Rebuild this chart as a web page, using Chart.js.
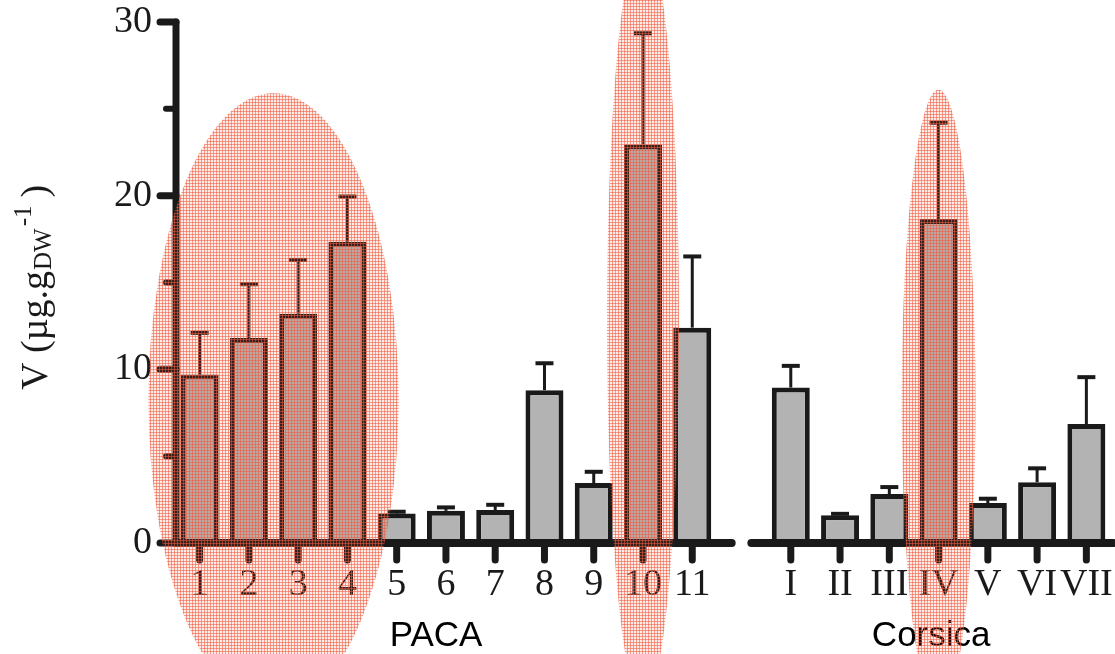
<!DOCTYPE html>
<html>
<head>
<meta charset="utf-8">
<script src="https://cdn.jsdelivr.net/npm/chart.js@4/dist/chart.umd.min.js"></script>
<style>
  html, body { margin: 0; padding: 0; background: #fff; }
  #wrap { width: 1115px; height: 654px; }
</style>
</head>
<body>
<div id="wrap"><canvas id="chart" width="1115" height="654"></canvas></div>
<script>
// Sites: PACA 1-11, a spacer slot, then Corsica I-VII
const sites = ["1","2","3","4","5","6","7","8","9","10","11","","I","II","III","IV","V","VI","VII"];
const meanV = [9.7, 11.8, 13.2, 17.35, 1.7, 1.85, 1.9, 8.8, 3.45, 22.95, 12.4, null,
               8.95, 1.6, 2.82, 18.65, 2.3, 3.5, 6.85];
const errV  = [2.4, 3.1, 3.1, 2.6, 0.1, 0.2, 0.3, 1.55, 0.65, 6.4, 4.1, null,
               1.25, 0.08, 0.4, 5.55, 0.25, 0.8, 2.7];
const yMajor = [0, 10, 20, 30];
const yMinor = [5, 15, 25];

// axis segments and group names (category index units)
const groupNames = ["PACA", "Corsica"];
const groupCenter = [4.8, 14.85];
const groupFrom = [-0.5, 11.2];
const groupTo = [10.8, 18.55];

// highlighted regions: centre index, centre value, x radius (slots), y radius (units)
const hiCenter = [1.5, 9, 15];
const hiMid = [8.2, 12.8, 8.2];
const hiRx = [2.54, 0.73, 0.75];
const hiRy = [17.7, 22.0, 17.9];

const ink = "#1a1a1a";
const serif = '"Liberation Serif", "Times New Roman", serif';

function meshPattern() {
    const c = document.createElement("canvas");
    c.width = 3; c.height = 3;
    const g = c.getContext("2d");
    g.fillStyle = "rgba(240,90,60,0.12)";
    g.fillRect(0, 0, 3, 3);
    g.fillStyle = "rgba(240,90,60,0.55)";
    g.fillRect(0, 0, 3, 1);
    g.fillRect(0, 0, 1, 3);
    return g.createPattern(c, "repeat");
}

const decorPlugin = {
    id: "decor",
    afterDatasetsDraw(chart) {
        const { ctx, chartArea, scales: { x, y } } = chart;
        const left = chartArea.left + 1;
        const y0 = y.getPixelForValue(0);
        ctx.save();
        ctx.strokeStyle = ink;

        // error bars (upper only)
        meanV.forEach((v, i) => {
            if (v == null) return;
            const px = x.getPixelForValue(i);
            const top = y.getPixelForValue(v + errV[i]);
            const base = y.getPixelForValue(v);
            ctx.lineCap = "butt";
            ctx.lineWidth = 3;
            ctx.beginPath(); ctx.moveTo(px, base); ctx.lineTo(px, top); ctx.stroke();
            ctx.lineWidth = 4;
            ctx.beginPath(); ctx.moveTo(px - 9, top); ctx.lineTo(px + 9, top); ctx.stroke();
        });

        ctx.lineCap = "round";
        // y axis
        ctx.lineWidth = 7;
        ctx.beginPath();
        ctx.moveTo(left, y.getPixelForValue(30));
        ctx.lineTo(left, y0);
        ctx.stroke();
        yMajor.forEach(v => {
            const py = y.getPixelForValue(v);
            ctx.beginPath(); ctx.moveTo(left - 16, py); ctx.lineTo(left, py); ctx.stroke();
        });
        ctx.lineWidth = 6;
        yMinor.forEach(v => {
            const py = y.getPixelForValue(v);
            ctx.beginPath(); ctx.moveTo(left - 10, py); ctx.lineTo(left, py); ctx.stroke();
        });

        // x axis, broken between the two regions
        ctx.lineWidth = 8;
        groupFrom.forEach((f, g) => {
            ctx.beginPath();
            ctx.moveTo(g === 0 ? left : x.getPixelForValue(f), y0);
            ctx.lineTo(x.getPixelForValue(groupTo[g]), y0);
            ctx.stroke();
        });
        ctx.lineWidth = 7;
        sites.forEach((s, i) => {
            if (!s) return;
            const px = x.getPixelForValue(i);
            ctx.beginPath(); ctx.moveTo(px, y0); ctx.lineTo(px, y0 + 17); ctx.stroke();
        });

        // group names
        ctx.fillStyle = "#000";
        ctx.font = '35px "Liberation Sans", Arial, sans-serif';
        ctx.textAlign = "center";
        ctx.textBaseline = "alphabetic";
        groupNames.forEach((n, g) => ctx.fillText(n, x.getPixelForValue(groupCenter[g]), y0 + 103));

        // y axis title with subscript / superscript
        ctx.fillStyle = ink;
        ctx.translate(47, 390);
        ctx.rotate(-Math.PI / 2);
        ctx.textAlign = "left";
        let pos = 0;
        ctx.font = "38px " + serif;
        ctx.fillText("V (\u00b5g.g", pos, 0);
        pos += ctx.measureText("V (\u00b5g.g").width + 1;
        ctx.font = "25px " + serif;
        ctx.fillText("DW", pos, 4);
        pos += ctx.measureText("DW").width + 2;
        ctx.fillText("-1", pos, -16);
        pos += ctx.measureText("-1").width + 8;
        ctx.font = "38px " + serif;
        ctx.fillText(")", pos, 0);
        ctx.restore();
    },
    afterDraw(chart) {
        const { ctx, scales: { x, y } } = chart;
        const slot = x.getPixelForValue(1) - x.getPixelForValue(0);
        const unit = y.getPixelForValue(0) - y.getPixelForValue(1);
        ctx.save();
        ctx.fillStyle = meshPattern();
        hiCenter.forEach((c, k) => {
            ctx.beginPath();
            ctx.ellipse(x.getPixelForValue(c), y.getPixelForValue(hiMid[k]),
                        hiRx[k] * slot, hiRy[k] * unit, 0, 0, Math.PI * 2);
            ctx.fill();
        });
        ctx.restore();
    }
};

new Chart(document.getElementById("chart"), {
    type: "bar",
    data: {
        labels: sites,
        datasets: [{
            data: meanV,
            backgroundColor: "#b3b3b3",
            borderColor: ink,
            borderWidth: 5,
            categoryPercentage: 1,
            barPercentage: 0.771
        }]
    },
    options: {
        responsive: false,
        animation: false,
        events: [],
        layout: { padding: { top: 22, right: 4, left: 0, bottom: 0 } },
        plugins: { legend: { display: false }, tooltip: { enabled: false } },
        scales: {
            x: {
                offset: true,
                grid: { display: false, drawTicks: false },
                border: { display: false },
                ticks: {
                    autoSkip: false, maxRotation: 0, minRotation: 0,
                    color: ink, padding: 23,
                    font: { family: serif, size: 38, lineHeight: 1 }
                },
                afterFit: s => { s.height = 111; s.paddingLeft = 0; s.paddingRight = 0; }
            },
            y: {
                min: 0, max: 30,
                grid: { display: false, drawTicks: false },
                border: { display: false },
                ticks: {
                    stepSize: 10, color: ink, padding: 23,
                    font: { family: serif, size: 38, lineHeight: 1 }
                },
                afterFit: s => { s.width = 175; s.paddingTop = 0; s.paddingBottom = 0; }
            }
        }
    },
    plugins: [decorPlugin]
});
</script>
</body>
</html>
